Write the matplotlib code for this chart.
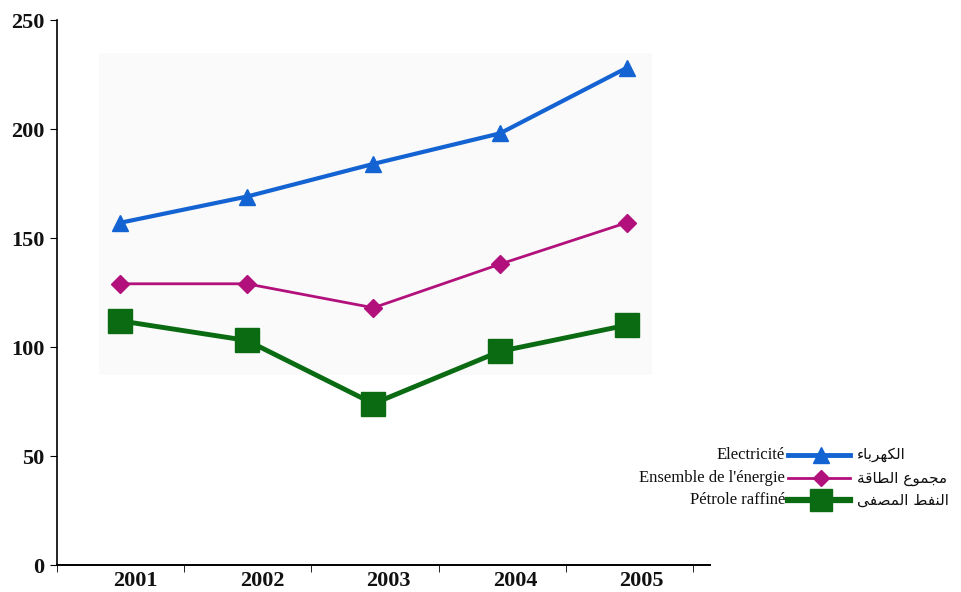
import matplotlib
matplotlib.use("Agg")
from matplotlib import pyplot as plt
from matplotlib.lines import Line2D
from matplotlib.patches import Rectangle
import numpy as np

years = ["2001", "2002", "2003", "2004", "2005"]
electricite = [157, 169, 184, 198, 228]
energie = [129, 129, 118, 138, 157]
petrole = [112, 103, 74, 98, 110]

labels_fr = ["Electricité", "Ensemble de l'énergie", "Pétrole raffiné"]
# arabic already shaped (presentation forms, visual order) since matplotlib does no shaping
labels_ar = [
    "\uFE80\uFE8E\uFE91\uFEAE\uFEEC\uFEDC\uFEDF\uFE8D",
    "\uFE94\uFED7\uFE8E\uFEC4\uFEDF\uFE8D \uFEC9\uFEEE\uFEE4\uFEA0\uFEE3",
    "\uFEF0\uFED4\uFEBC\uFEE4\uFEDF\uFE8D \uFEC2\uFED4\uFEE8\uFEDF\uFE8D",
]

blue = "#1463d2"
magenta = "#b2117c"
green = "#0b6b12"

fig = plt.figure(figsize=(9.62, 5.92), dpi=100)
ax = fig.add_axes([0.0593, 0.0456, 0.6788, 0.9206])

x = np.arange(len(years))

# faint grey backdrop behind the lines
ax.add_patch(Rectangle((-0.17, 87), 4.37, 148, facecolor="#fafafa",
                       edgecolor="none", zorder=0))

l1, = ax.plot(x, electricite, color=blue, lw=3, marker="^", ms=12,
              zorder=3)
l2, = ax.plot(x, energie, color=magenta, lw=2, marker="D", ms=9,
              zorder=3)
l3, = ax.plot(x, petrole, color=green, lw=3.5, marker="s", ms=17,
              zorder=3)

ax.set_xlim(-0.5, 4.66)
ax.set_ylim(0, 250)
ax.set_yticks(range(0, 251, 50))

# year labels sit a bit right of the points, ticks sit between years
ax.set_xticks(x + 0.12)
ax.set_xticklabels(years)
ax.set_xticks(np.arange(-0.5, 5, 1.005), minor=True)
ax.tick_params(axis="x", which="major", length=0, pad=4)
ax.tick_params(axis="x", which="minor", length=5, direction="out")
ax.tick_params(axis="y", length=5, direction="out", pad=4)
for t in ax.get_xticklabels() + ax.get_yticklabels():
    t.set_family("Liberation Serif")
    t.set_fontweight("bold")
    t.set_fontsize(16)
    t.set_color("#111111")

ax.spines["top"].set_visible(False)
ax.spines["right"].set_visible(False)
ax.spines["left"].set_linewidth(1.2)
ax.spines["bottom"].set_linewidth(1.4)

# legend drawn by hand: french text | line+marker | arabic text
rows_y = [455, 478, 500]
styles = [(blue, "^", 11, 3.5), (magenta, "D", 8, 2), (green, "s", 16, 4.5)]
W, H = 962.0, 592.0
for fr, ar, yy, (c, m, ms, lw) in zip(labels_fr, labels_ar, rows_y, styles):
    fy = 1 - yy / H
    fig.add_artist(Line2D([788 / W, 850 / W], [fy, fy], color=c, lw=lw,
                          transform=fig.transFigure))
    fig.add_artist(Line2D([821 / W], [fy], color=c, marker=m, ms=ms,
                          transform=fig.transFigure))
    fig.text(785 / W, fy, fr, ha="right", va="center", fontsize=12,
             family="Liberation Serif", color="#111111")
    fig.text(857 / W, fy, ar, ha="left", va="center", fontsize=11,
             family="DejaVu Sans", color="#111111")

fig.savefig("out.png", dpi=100)
